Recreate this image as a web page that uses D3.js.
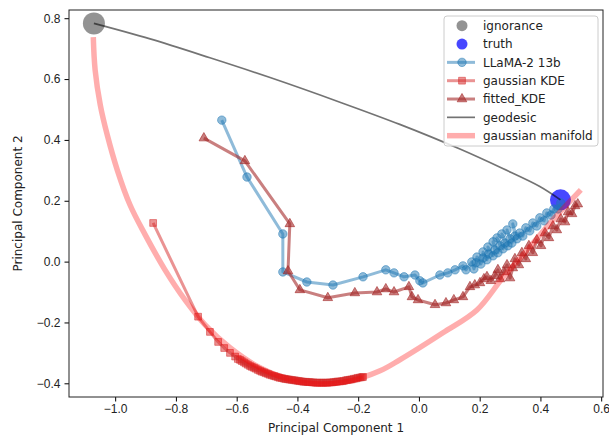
<!DOCTYPE html>
<html>
<head>
<meta charset="utf-8">
<script src="https://cdn.jsdelivr.net/npm/d3@7"></script>
<style>
  body { margin: 0; background: #fff; }
  svg { font-family: "DejaVu Sans", sans-serif; }
  .tick text { font-size: 12px; fill: #222; }
</style>
</head>
<body>
<div id="chart"></div>
<script>
// points (PC1, PC2)
var ignorance = [[-1.070, 0.783]];
var truth = [[0.466, 0.203]];

var llamaX = [-0.649, -0.566, -0.448, -0.448, -0.369, -0.283, -0.184, -0.109, -0.082, -0.049,
  -0.013, 0.003, 0.013, 0.069, 0.095, 0.119, 0.145,
  0.155, 0.174, 0.181, 0.188, 0.191, 0.204, 0.211, 0.211, 0.224, 0.230,
  0.227, 0.244, 0.250, 0.244, 0.260, 0.267, 0.257, 0.277, 0.283, 0.273,
  0.293, 0.300, 0.290, 0.306, 0.316, 0.309, 0.323, 0.332, 0.342, 0.352,
  0.365, 0.375, 0.388, 0.398, 0.412, 0.421, 0.435, 0.444, 0.458, 0.467];
var llamaY = [0.465, 0.278, 0.091, -0.034, -0.067, -0.077, -0.050, -0.027, -0.037, -0.050,
  -0.044, -0.063, -0.070, -0.044, -0.037, -0.027, -0.014,
  -0.027, -0.001, -0.024, -0.004, 0.015, -0.008, 0.012, 0.032, 0.006, 0.025,
  0.048, 0.019, 0.038, 0.065, 0.029, 0.052, 0.078, 0.042, 0.061, 0.091,
  0.052, 0.075, 0.104, 0.061, 0.084, 0.124, 0.075, 0.094, 0.084, 0.111,
  0.101, 0.127, 0.117, 0.144, 0.134, 0.160, 0.153, 0.173, 0.173, 0.193];

var gaussKdeX = [-0.875, -0.727, -0.688, -0.661, -0.641, -0.622, -0.605,
  -0.596, -0.589, -0.583, -0.576, -0.570, -0.563, -0.556, -0.550, -0.543, -0.537,
  -0.530, -0.523, -0.517, -0.510, -0.504, -0.497, -0.491, -0.484, -0.477, -0.471,
  -0.464, -0.458, -0.451, -0.444, -0.438, -0.431, -0.425, -0.418, -0.411, -0.405,
  -0.398, -0.392, -0.385, -0.379, -0.372, -0.365, -0.359, -0.352, -0.346, -0.339,
  -0.333, -0.326, -0.319, -0.313, -0.306, -0.300, -0.293, -0.286, -0.280, -0.273,
  -0.267, -0.260, -0.253, -0.247, -0.240, -0.234, -0.227, -0.221, -0.214, -0.207,
  -0.201, -0.194, -0.188, -0.184];
var gaussKdeY = [0.127, -0.181, -0.231, -0.264, -0.284, -0.300, -0.312,
  -0.320, -0.323, -0.327, -0.331, -0.335, -0.339, -0.343, -0.346, -0.349, -0.352,
  -0.356, -0.359, -0.362, -0.364, -0.367, -0.369, -0.372, -0.374, -0.376, -0.378,
  -0.380, -0.382, -0.383, -0.385, -0.386, -0.387, -0.388, -0.389, -0.390, -0.391,
  -0.392, -0.393, -0.394, -0.395, -0.395, -0.396, -0.396, -0.397, -0.397, -0.398,
  -0.398, -0.398, -0.398, -0.398, -0.398, -0.398, -0.397, -0.397, -0.396, -0.395,
  -0.394, -0.394, -0.393, -0.392, -0.390, -0.389, -0.388, -0.387, -0.385, -0.384,
  -0.382, -0.381, -0.380, -0.379];

var fittedX = [-0.708, -0.573, -0.425, -0.431, -0.392, -0.300, -0.211, -0.138, -0.109, -0.082,
  -0.033, -0.023, -0.003, 0.053, 0.089, 0.115, 0.145,
  0.168, 0.184, 0.201, 0.214, 0.224, 0.237, 0.250, 0.260, 0.267, 0.280,
  0.290, 0.300, 0.309, 0.316, 0.329, 0.339, 0.352, 0.362, 0.375, 0.388,
  0.402, 0.415, 0.428, 0.441, 0.454, 0.467, 0.481, 0.491, 0.504, 0.514, 0.523];
var fittedY = [0.406, 0.331, 0.124, -0.031, -0.093, -0.119, -0.103, -0.100, -0.090, -0.100,
  -0.083, -0.116, -0.126, -0.142, -0.136, -0.126, -0.116,
  -0.083, -0.077, -0.070, -0.057, -0.050, -0.063, -0.047, -0.027, -0.057, -0.034,
  -0.011, -0.054, -0.021, 0.009, -0.011, 0.029, 0.009, 0.052, 0.029, 0.071,
  0.052, 0.094, 0.078, 0.117, 0.104, 0.140, 0.130, 0.163, 0.157, 0.183, 0.189];

var geodesicX = [-1.070, -0.885, -0.688, -0.490, -0.260, -0.063, 0.135, 0.276, 0.398, 0.466];
var geodesicY = [0.783, 0.732, 0.670, 0.605, 0.524, 0.451, 0.370, 0.306, 0.247, 0.203];

var manifoldX = [-1.072, -1.066, -1.049, -1.026, -0.993, -0.951, -0.901, -0.836, -0.770, -0.704,
  -0.622, -0.523, -0.424, -0.326, -0.227, -0.128, -0.063, 0.079, 0.191, 0.276,
  0.365, 0.447, 0.533];
var manifoldY = [0.738, 0.630, 0.515, 0.416, 0.301, 0.186, 0.088, -0.027, -0.126, -0.208,
  -0.283, -0.349, -0.388, -0.402, -0.392, -0.359, -0.323, -0.234, -0.159, -0.053,
  0.048, 0.144, 0.236];

var xTicks = [-1.0, -0.8, -0.6, -0.4, -0.2, 0.0, 0.2, 0.4, 0.6];
var yTicks = [-0.4, -0.2, 0.0, 0.2, 0.4, 0.6, 0.8];

var W = 609, H = 436;
var pLeft = 69, pRight = 603, pTop = 10, pBottom = 397;

var svg = d3.select('#chart')
  .append('svg')
  .attr('width', W)
  .attr('height', H);

var x = d3.scaleLinear().domain([-1.152, 0.606]).range([pLeft, pRight]);
var y = d3.scaleLinear().domain([-0.445, 0.827]).range([pBottom, pTop]);

function zip(xs, ys) {
  return xs.map(function(v, i) { return [v, ys[i]]; });
}

var line = d3.line()
  .x(d => x(d[0]))
  .y(d => y(d[1]));

var smoothLine = d3.line()
  .x(d => x(d[0]))
  .y(d => y(d[1]))
  .curve(d3.curveCatmullRom);

var plot = svg.append('g');

// ignorance + truth
plot.selectAll('circle.ignorance')
  .data(ignorance)
  .enter()
  .append('circle')
  .attr('class', 'ignorance')
  .attr('cx', d => x(d[0]))
  .attr('cy', d => y(d[1]))
  .attr('r', 11)
  .style('fill', 'gray')
  .style('fill-opacity', 0.85);

plot.selectAll('circle.truth')
  .data(truth)
  .enter()
  .append('circle')
  .attr('class', 'truth')
  .attr('cx', d => x(d[0]))
  .attr('cy', d => y(d[1]))
  .attr('r', 10.5)
  .style('fill', 'blue')
  .style('fill-opacity', 0.72);

// trajectory with markers, alpha on both line and markers
function drawSeries(data, color, alpha, width, marker) {
  var g = plot.append('g');
  g.append('path')
    .datum(data)
    .attr('d', line)
    .style('fill', 'none')
    .style('stroke', color)
    .style('stroke-opacity', alpha)
    .style('stroke-width', width)
    .style('stroke-linejoin', 'round');

  g.selectAll('path.marker')
    .data(data)
    .enter()
    .append('path')
    .attr('class', 'marker')
    .attr('transform', d => 'translate(' + x(d[0]) + ',' + y(d[1]) + ')')
    .attr('d', marker)
    .style('fill', color)
    .style('fill-opacity', alpha)
    .style('stroke', color)
    .style('stroke-opacity', alpha)
    .style('stroke-width', 1);
}

var circleMark = d3.symbol().type(d3.symbolCircle).size(56)();
var squareMark = d3.symbol().type(d3.symbolSquare).size(46)();
var triMark = d3.symbol().type(d3.symbolTriangle).size(40)();

drawSeries(zip(llamaX, llamaY), '#1f77b4', 0.5, 3, circleMark);
drawSeries(zip(gaussKdeX, gaussKdeY), '#d62728', 0.5, 3, squareMark);
drawSeries(zip(fittedX, fittedY), 'brown', 0.6, 3, triMark);

plot.append('path')
  .datum(zip(geodesicX, geodesicY))
  .attr('d', smoothLine)
  .style('fill', 'none')
  .style('stroke', 'black')
  .style('stroke-opacity', 0.55)
  .style('stroke-width', 1.7);

plot.append('path')
  .datum(zip(manifoldX, manifoldY))
  .attr('d', smoothLine)
  .style('fill', 'none')
  .style('stroke', 'red')
  .style('stroke-opacity', 0.32)
  .style('stroke-width', 5.5)
  .style('stroke-linejoin', 'round');

// axes
var fmt = d3.format('.1f');

svg.append('g')
  .attr('transform', 'translate(0,' + pBottom + ')')
  .call(d3.axisBottom(x).tickValues(xTicks).tickFormat(fmt).tickSize(4.5).tickPadding(3))
  .call(g => g.select('.domain').remove());

svg.append('g')
  .attr('transform', 'translate(' + pLeft + ',0)')
  .call(d3.axisLeft(y).tickValues(yTicks).tickFormat(fmt).tickSize(4.5).tickPadding(4))
  .call(g => g.select('.domain').remove());

svg.append('rect')
  .attr('x', pLeft)
  .attr('y', pTop)
  .attr('width', pRight - pLeft)
  .attr('height', pBottom - pTop)
  .style('fill', 'none')
  .style('stroke', '#222')
  .style('stroke-width', 1);

svg.append('text')
  .attr('x', (pLeft + pRight) / 2)
  .attr('y', 432)
  .attr('text-anchor', 'middle')
  .style('font-size', '12px')
  .style('fill', '#222')
  .text('Principal Component 1');

svg.append('text')
  .attr('transform', 'translate(22,' + ((pTop + pBottom) / 2) + ') rotate(-90)')
  .attr('text-anchor', 'middle')
  .style('font-size', '12px')
  .style('fill', '#222')
  .text('Principal Component 2');

// legend
var legendItems = [
  {label: 'ignorance', kind: 'dot', color: 'gray', alpha: 0.85},
  {label: 'truth', kind: 'dot', color: 'blue', alpha: 0.72},
  {label: 'LLaMA-2 13b', kind: 'line', color: '#1f77b4', alpha: 0.5, width: 3, marker: circleMark},
  {label: 'gaussian KDE', kind: 'line', color: '#d62728', alpha: 0.5, width: 3, marker: squareMark},
  {label: 'fitted_KDE', kind: 'line', color: 'brown', alpha: 0.6, width: 3, marker: triMark},
  {label: 'geodesic', kind: 'line', color: 'black', alpha: 0.55, width: 1.7},
  {label: 'gaussian manifold', kind: 'line', color: 'red', alpha: 0.32, width: 5.5}
];

var legend = svg.append('g');

legend.append('rect')
  .attr('x', 444)
  .attr('y', 16)
  .attr('width', 154)
  .attr('height', 130)
  .attr('rx', 3)
  .style('fill', 'white')
  .style('fill-opacity', 0.8)
  .style('stroke', '#ccc')
  .style('stroke-width', 1);

var row = legend.selectAll('g.row')
  .data(legendItems)
  .enter()
  .append('g')
  .attr('class', 'row')
  .attr('transform', (d, i) => 'translate(0,' + (25.7 + i * 18.33) + ')');

row.filter(d => d.kind === 'dot')
  .append('circle')
  .attr('cx', 462)
  .attr('cy', 0)
  .attr('r', 5.5)
  .style('fill', d => d.color)
  .style('fill-opacity', d => d.alpha);

row.filter(d => d.kind === 'line')
  .append('line')
  .attr('x1', 447)
  .attr('x2', 475)
  .attr('y1', 0)
  .attr('y2', 0)
  .style('stroke', d => d.color)
  .style('stroke-opacity', d => d.alpha)
  .style('stroke-width', d => d.width);

row.filter(d => d.marker)
  .append('path')
  .attr('transform', 'translate(462,0)')
  .attr('d', d => d.marker)
  .style('fill', d => d.color)
  .style('fill-opacity', d => d.alpha)
  .style('stroke', d => d.color)
  .style('stroke-opacity', d => d.alpha);

row.append('text')
  .attr('x', 483)
  .attr('y', 0)
  .attr('dy', '0.35em')
  .style('font-size', '12px')
  .style('fill', '#222')
  .text(d => d.label);
</script>
</body>
</html>
